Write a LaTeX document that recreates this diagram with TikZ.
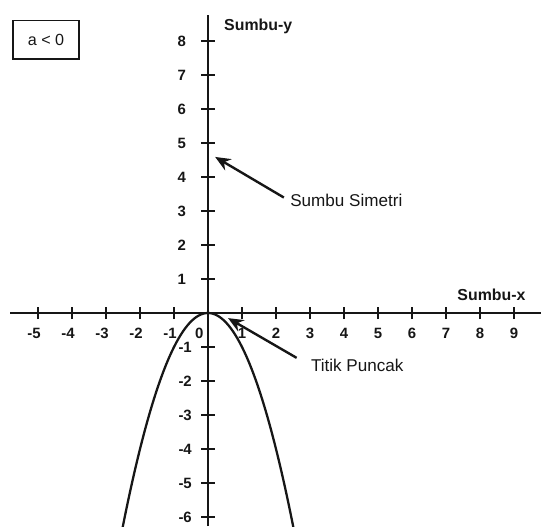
\documentclass[tikz,border=0pt]{standalone}
\usepackage{fontspec}
\setmainfont{Liberation Sans}
\usetikzlibrary{arrows.meta,positioning,calc}
\definecolor{ink}{HTML}{161616}

\begin{document}
\begin{tikzpicture}[x=1cm,y=1cm]

  % Set default font and looks
  \tikzset{
    every node/.style={font=\fontsize{14.3}{17}\selectfont, text=ink},
    axisline/.style={draw=ink, line width=1.6pt},
    tickline/.style={draw=ink, line width=1.3pt},
    ticklabel/.style={font=\bfseries\fontsize{12.5}{14}\selectfont, inner sep=0pt},
    axislabel/.style={font=\bfseries\fontsize{13.3}{15}\selectfont, anchor=west, inner sep=0pt},
    pointer/.style={draw=ink, line width=2pt, -{Stealth[length=0.45cm,width=0.38cm]}},
    curve/.style={draw=ink, line width=1.9pt}
  }

  % Frame
  \useasboundingbox (-6.118,-6.265) rectangle (9.794,9.206);

  % Axes
  \coordinate (xstart) at (-5.82,0);
  \coordinate (xend) at (9.794,0);
  \coordinate (ystart) at (0,-6.265);
  \coordinate (yend) at (0,8.76);
  \draw[axisline] (xstart) -- (xend);
  \draw[axisline] (ystart) -- (yend);

  % Ticks and numbers on the x axis
  \foreach \k in {-5,...,-1}{
    \draw[tickline] (\k,-0.18) -- (\k,0.18);
    \node[ticklabel] (xnum\k) at (\k-0.12,-0.59) {\k};
  }
  \foreach \k in {1,...,9}{
    \draw[tickline] (\k,-0.18) -- (\k,0.18);
    \node[ticklabel] (xnum\k) at (\k,-0.59) {\k};
  }
  \node[ticklabel] (origin) at (-0.26,-0.59) {0};

  % Ticks and numbers on the y axis
  \foreach \k in {1,...,8}{
    \draw[tickline] (-0.2,\k) -- (0.2,\k);
    \node[ticklabel, anchor=east] (ynum\k) at (-0.64,\k) {\k};
  }
  \foreach \k in {-6,...,-1}{
    \draw[tickline] (-0.2,\k) -- (0.2,\k);
    \node[ticklabel, anchor=east] (ynum\k) at (-0.47,\k) {\k};
  }

  % Axis names
  \node[axislabel] (ylabel) at (0.47,8.44) {Sumbu-y};
  \node[axislabel] (xlabel) at (7.33,0.53) {Sumbu-x};

  % Condition box
  \node[
    draw=ink,
    line width=0.9pt,
    minimum width=1.94cm,
    minimum height=1.12cm,
    font=\fontsize{13.5}{16}\selectfont
  ] (cond) at (-4.765,8.03) {a < 0};

  % Parabola y = -x^2
  \draw[curve] plot[domain=-2.52:2.52, samples=80, smooth] (\x,{-(\x)^2});

  % Axis of symmetry
  \node[anchor=west, inner sep=1.5pt] (simlabel) at (2.36,3.32) {Sumbu Simetri};
  \coordinate (simtip) at (0.21,4.59);
  \draw[pointer, shorten <=0.15cm] (simlabel.west) -- (simtip);

  % Vertex
  \node[anchor=west, inner sep=1.5pt] (puncaklabel) at (2.97,-1.53) {Titik Puncak};
  \coordinate (puncaktip) at (0.59,-0.15);
  \draw[pointer, shorten <=0.42cm] (puncaklabel.west) -- (puncaktip);

\end{tikzpicture}
\end{document}
